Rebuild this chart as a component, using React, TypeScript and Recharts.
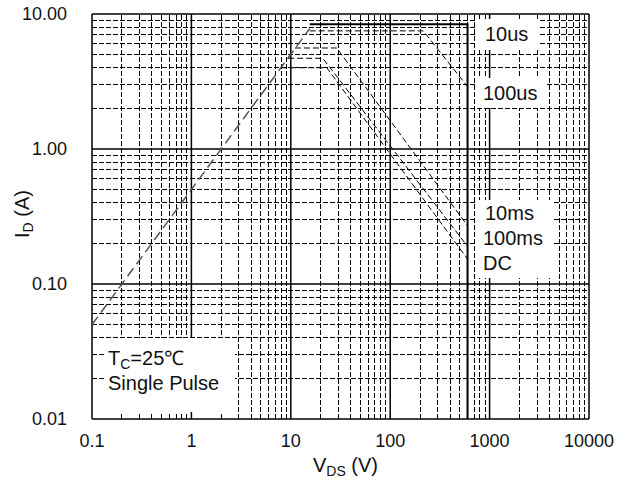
import { LineChart, Line, XAxis, YAxis, ReferenceLine } from 'recharts'

const FONT = '"Liberation Sans", Arial, sans-serif'

// axis ticks
const xTicks = [0.1, 1, 10, 100, 1000, 10000]
const yTicks = [0.01, 0.1, 1, 10]
const yTickLabels = ['0.01', '0.10', '1.00', '10.00']

// decades used for the minor grid (2..9 within each decade)
const xDecades = [0.1, 1, 10, 100, 1000]
const yDecades = [0.01, 0.1, 1]
const minorSteps = [2, 3, 4, 5, 6, 7, 8, 9]

// SOA boundaries, V_DS (V) vs I_D (A)
const rdsOnLimit = [
  { v: 0.1, i: 0.05 },
  { v: 15.5, i: 7.8 },
]
const limit10us = [
  { v: 15.5, i: 8.4 },
  { v: 600, i: 8.4 },
  { v: 600, i: 0.01 },
]
const limit100us = [
  { v: 15.5, i: 7.5 },
  { v: 215, i: 7.5 },
  { v: 600, i: 2.9 },
]
const limit10ms = [
  { v: 11, i: 5.6 },
  { v: 29, i: 5.6 },
  { v: 600, i: 0.27 },
]
const limit100ms = [
  { v: 9.4, i: 4.7 },
  { v: 21, i: 4.7 },
  { v: 600, i: 0.19 },
]
const limitDC = [
  { v: 8, i: 4.0 },
  { v: 23, i: 4.0 },
  { v: 600, i: 0.153 },
]

const xMinor = xDecades.flatMap((d) => minorSteps.map((k) => d * k))
const yMinor = yDecades.flatMap((d) => minorSteps.map((k) => d * k))

const txt: React.CSSProperties = {
  position: 'absolute',
  fontFamily: FONT,
  fontSize: 20,
  lineHeight: '20px',
  color: '#111',
  whiteSpace: 'nowrap',
}

const box = (left: number, top: number, width: number, height: number): React.CSSProperties => ({
  position: 'absolute',
  left,
  top,
  width,
  height,
  background: '#fff',
})

export default function App() {
  return (
    <div style={{ position: 'absolute', left: 0, top: 0, width: 630, height: 483, background: '#fff' }}>
      <LineChart width={630} height={483} margin={{ top: 14, right: 41, left: 0, bottom: 0 }}>
        <XAxis
          type="number"
          dataKey="v"
          scale="log"
          domain={[0.1, 10000]}
          ticks={xTicks}
          interval={0}
          allowDataOverflow
          tickLine={false}
          axisLine={false}
          height={64}
          tickMargin={9}
          tick={{ fill: '#111', fontSize: 18, fontFamily: FONT }}
          tickFormatter={(v: number) => String(v)}
          label={{
            content: () => (
              <text x={313} y={472} fontFamily={FONT} fontSize={20} fill="#111">
                V<tspan dy={4} fontSize={14}>DS</tspan>
                <tspan dy={-4}> (V)</tspan>
              </text>
            ),
          }}
        />
        <YAxis
          type="number"
          dataKey="i"
          scale="log"
          domain={[0.01, 10]}
          ticks={yTicks}
          interval={0}
          allowDataOverflow
          tickLine={false}
          axisLine={false}
          width={92}
          tickMargin={19}
          tick={{ fill: '#111', fontSize: 18, fontFamily: FONT }}
          tickFormatter={(v: number) => yTickLabels[yTicks.indexOf(v)] ?? String(v)}
          label={{
            content: () => (
              <text
                x={29}
                y={238}
                transform="rotate(-90 29 238)"
                fontFamily={FONT}
                fontSize={20}
                fill="#111"
              >
                I<tspan dy={4} fontSize={14}>D</tspan>
                <tspan dy={-4}> (A)</tspan>
              </text>
            ),
          }}
        />

        {xMinor.map((v) => (
          <ReferenceLine key={'xm' + v} x={v} stroke="#000" strokeWidth={1} strokeDasharray="5 2" shapeRendering="crispEdges" />
        ))}
        {yMinor.map((v) => (
          <ReferenceLine key={'ym' + v} y={v} stroke="#000" strokeWidth={1} strokeDasharray="5 2" shapeRendering="crispEdges" />
        ))}
        {xTicks.map((v) => (
          <ReferenceLine key={'xM' + v} x={v} stroke="#000" strokeWidth={1.5} />
        ))}
        {yTicks.map((v) => (
          <ReferenceLine key={'yM' + v} y={v} stroke="#000" strokeWidth={1.5} />
        ))}

        <Line
          data={rdsOnLimit}
          dataKey="i"
          type="linear"
          dot={false}
          stroke="#555"
          strokeWidth={1.5}
          strokeDasharray="10 5"
          isAnimationActive={false}
        />
        <Line data={limit10us} dataKey="i" type="linear" dot={false} stroke="#000" strokeWidth={2} isAnimationActive={false} />
        <Line data={limit100us} dataKey="i" type="linear" dot={false} stroke="#000" strokeWidth={1} strokeDasharray="6 3" isAnimationActive={false} />
        <Line data={limit10ms} dataKey="i" type="linear" dot={false} stroke="#000" strokeWidth={1} strokeDasharray="6 3" isAnimationActive={false} />
        <Line data={limit100ms} dataKey="i" type="linear" dot={false} stroke="#000" strokeWidth={1} strokeDasharray="6 3" isAnimationActive={false} />
        <Line data={limitDC} dataKey="i" type="linear" dot={false} stroke="#000" strokeWidth={1} strokeDasharray="6 3" isAnimationActive={false} />
      </LineChart>

      <div style={box(477, 19, 62, 31)} />
      <div style={box(477, 78, 70, 30)} />
      <div style={box(477, 200, 76, 78)} />
      <div style={box(105, 338, 130, 74)} />

      <div style={{ ...txt, left: 485, top: 24 }}>10us</div>
      <div style={{ ...txt, left: 483, top: 83 }}>100us</div>
      <div style={{ ...txt, left: 485, top: 203 }}>10ms</div>
      <div style={{ ...txt, left: 483, top: 228 }}>100ms</div>
      <div style={{ ...txt, left: 483, top: 253 }}>DC</div>
      <div style={{ ...txt, left: 108, top: 348 }}>
        T<sub style={{ fontSize: 14, verticalAlign: '-4px' }}>C</sub>=25℃
      </div>
      <div style={{ ...txt, left: 108, top: 373 }}>Single Pulse</div>
    </div>
  )
}
